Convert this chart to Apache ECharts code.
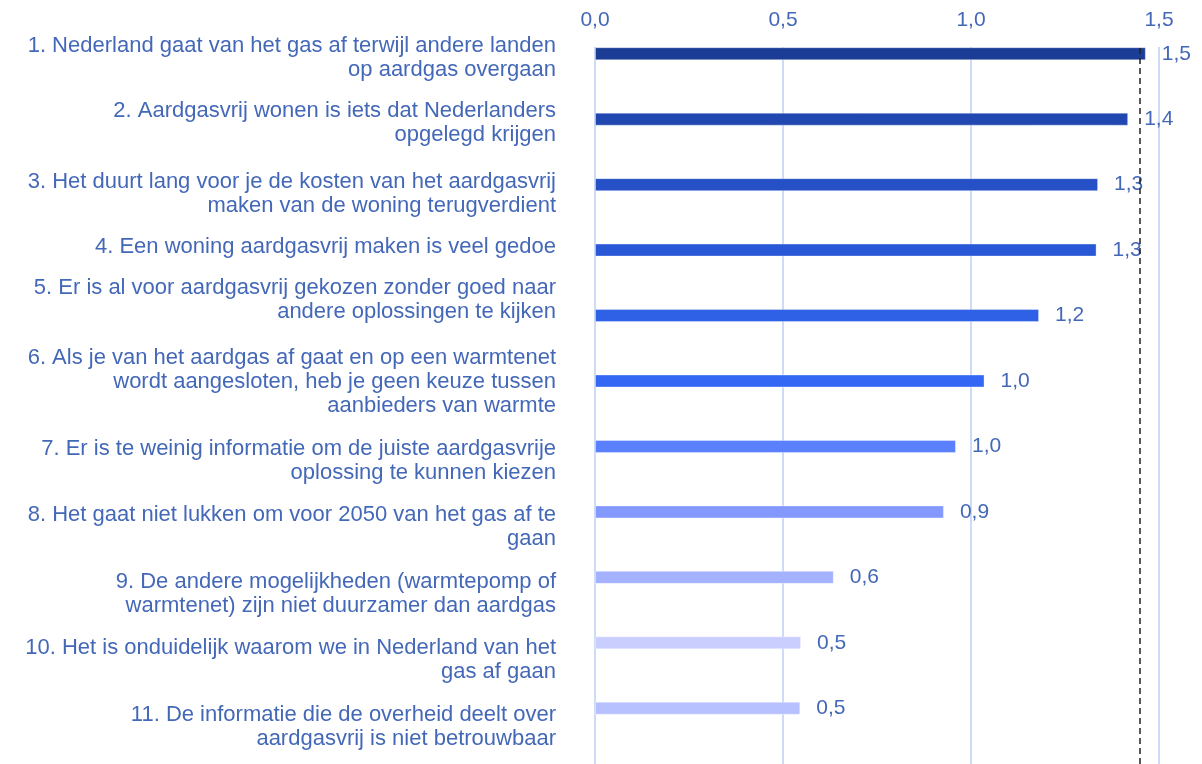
<!DOCTYPE html>
<html>
<head>
<meta charset="utf-8">
<script src="https://cdn.jsdelivr.net/npm/echarts@6/dist/echarts.min.js"></script>
<style>
  html, body { margin: 0; padding: 0; background: #fff; }
  #chart { width: 1202px; height: 764px; }
</style>
</head>
<body>
<div id="chart"></div>
<script>
const statements = [
  '1. Nederland gaat van het gas af terwijl andere landen\nop aardgas overgaan',
  '2. Aardgasvrij wonen is iets dat Nederlanders\nopgelegd krijgen',
  '3. Het duurt lang voor je de kosten van het aardgasvrij\nmaken van de woning terugverdient',
  '4. Een woning aardgasvrij maken is veel gedoe',
  '5. Er is al voor aardgasvrij gekozen zonder goed naar\nandere oplossingen te kijken',
  '6. Als je van het aardgas af gaat en op een warmtenet\nwordt aangesloten, heb je geen keuze tussen\naanbieders van warmte',
  '7. Er is te weinig informatie om de juiste aardgasvrije\noplossing te kunnen kiezen',
  '8. Het gaat niet lukken om voor 2050 van het gas af te\ngaan',
  '9. De andere mogelijkheden (warmtepomp of\nwarmtenet) zijn niet duurzamer dan aardgas',
  '10. Het is onduidelijk waarom we in Nederland van het\ngas af gaan',
  '11. De informatie die de overheid deelt over\naardgasvrij is niet betrouwbaar'
]
const scores = [1.465, 1.418, 1.338, 1.334, 1.181, 1.036, 0.96, 0.928, 0.635, 0.548, 0.546]
const referenceLine = 1.45
const axisTicks = [0, 0.5, 1.0, 1.5]

// styling
const barColors = ['#1b3d96', '#2147b0', '#2550c6', '#2958d6', '#2e61e6', '#3468f4', '#5b80ff', '#8399ff', '#a4b1ff', '#c9ceff', '#b7c1ff']
// vertical nudge (px) of each category label, as placed in the original
const labelNudge = [4, 4, 9, -3, -16, 1, 14, 15, 17, 17, 19]
const textColor = '#4468b8'
const comma = v => v.toFixed(1).replace('.', ',')

const labelRich = {
  t: { color: textColor, fontSize: 22, lineHeight: 24, align: 'right' }
}
labelNudge.forEach(n => {
  const h = Math.abs(n) * 2
  if (h) labelRich['g' + h] = { height: h, lineHeight: h, fontSize: 1 }
})

const chart = echarts.init(document.getElementById('chart'))

const option = {
  animation: false,
  textStyle: { fontFamily: 'Liberation Sans, Arial, sans-serif' },
  grid: [
    { left: 595, right: 43, top: 21, height: 720 },
    { left: 595, right: 43, top: 47, bottom: 0 }
  ],
  xAxis: [
    { gridIndex: 0, type: 'value', min: 0, max: 1.5, interval: 0.5, show: false },
    {
      gridIndex: 1,
      type: 'value',
      position: 'top',
      min: axisTicks[0],
      max: axisTicks[axisTicks.length - 1],
      interval: 0.5,
      axisLine: { show: false },
      axisTick: { show: false },
      axisLabel: {
        color: textColor,
        fontSize: 21,
        margin: 16,
        formatter: v => comma(v)
      },
      splitLine: { lineStyle: { color: '#bccff7', width: 1.5 } }
    }
  ],
  yAxis: [
    {
      gridIndex: 0,
      type: 'category',
      inverse: true,
      data: statements,
      axisLine: { show: false },
      axisTick: { show: false },
      axisLabel: {
        interval: 0,
        hideOverlap: false,
        margin: 39,
        align: 'right',
        rich: labelRich,
        formatter: (value, idx) => {
          const n = labelNudge[idx]
          const body = value.split('\n').map(l => '{t|' + l + '}').join('\n')
          if (n > 0) return '{g' + 2 * n + '|}\n' + body
          if (n < 0) return body + '\n{g' + -2 * n + '|}'
          return body
        }
      }
    },
    { gridIndex: 1, type: 'value', min: 0, max: 1, show: false }
  ],
  series: [
    {
      type: 'bar',
      xAxisIndex: 0,
      yAxisIndex: 0,
      barWidth: 13,
      z: 3,
      data: scores.map((v, i) => ({
        value: v,
        itemStyle: { color: barColors[i], borderColor: 'rgba(255,255,255,0.35)', borderWidth: 1 }
      })),
      label: {
        show: true,
        position: 'right',
        distance: 16,
        color: textColor,
        fontSize: 21,
        formatter: p => comma(p.value)
      }
    },
    {
      type: 'line',
      xAxisIndex: 1,
      yAxisIndex: 1,
      data: [],
      z: 5,
      markLine: {
        silent: true,
        symbol: 'none',
        label: { show: false },
        lineStyle: { color: '#222', type: [6, 4], width: 1.5 },
        data: [{ xAxis: referenceLine }]
      }
    }
  ]
}

chart.setOption(option)
</script>
</body>
</html>
